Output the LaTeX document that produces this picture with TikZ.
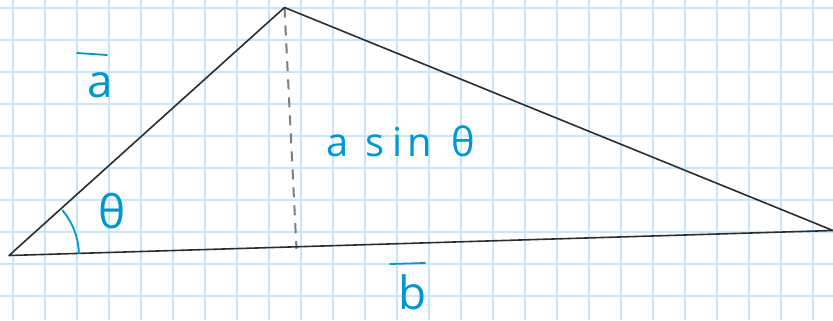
\documentclass[tikz,border=0pt]{standalone}
\usepackage{fontspec}
\setmainfont{Open Sans}
\definecolor{gridc}{RGB}{200,230,250}
\definecolor{ink}{RGB}{0,150,210}
\definecolor{edgec}{RGB}{45,45,45}
\definecolor{dashc}{RGB}{125,125,125}
\tikzset{
  lbl/.style={text=ink, font=\fontsize{46}{50}\selectfont, inner sep=0pt},
  lblsmall/.style={text=ink, font=\fontsize{40}{44}\selectfont, inner sep=0pt},
  inkline/.style={draw=ink, line width=1.8bp, line cap=round},
  gridline/.style={draw=gridc, line width=2bp},
  side/.style={draw=edgec, line width=1.6bp, line join=round},
  heightline/.style={draw=dashc, line width=2bp, dash pattern=on 10bp off 8bp}
}
\begin{document}
\begin{tikzpicture}[x=1bp,y=-1bp]
\useasboundingbox (0,0) rectangle (833,320);
\fill[white] (0,0) rectangle (833,320);
\begin{scope}
\clip (0,0) rectangle (833,320);
\foreach \i in {0,...,25} \draw[gridline] ({13.3+32*\i},0) -- ({13.3+32*\i},320);
\foreach \j in {0,...,9} \draw[gridline] (0,{8.3+32*\j}) -- (833,{8.3+32*\j});
\coordinate (A) at (9,255.5);
\coordinate (B) at (284.5,7.5);
\coordinate (C) at (833,230.5);
\coordinate (F) at (296.5,249);
\draw[heightline] (B) -- (F);
\draw[side] (A) -- (B) -- (C) -- cycle;
\draw[inkline] ([shift={(-1.7:70)}]A) arc[start angle=-1.7, end angle=-40, radius=70];
\end{scope}
\node[lbl, anchor=base] (la) at (100,97) {a};
\coordinate (la1) at (77,53);
\coordinate (la2) at (107,55);
\draw[inkline] (la1) -- (la2);
\node[lbl, anchor=base] (lb) at (413,309) {b};
\coordinate (lb1) at (390,264);
\coordinate (lb2) at (425,263);
\draw[inkline] (lb1) -- (lb2);
\node[lbl, anchor=base] (lt) at (112,228) {θ};
\node[lblsmall, anchor=base west] (lh) at (326,156) {a\hspace{17pt}s\hspace{8pt}i\hspace{5pt}n\hspace{20pt}θ};
\end{tikzpicture}
\end{document}
